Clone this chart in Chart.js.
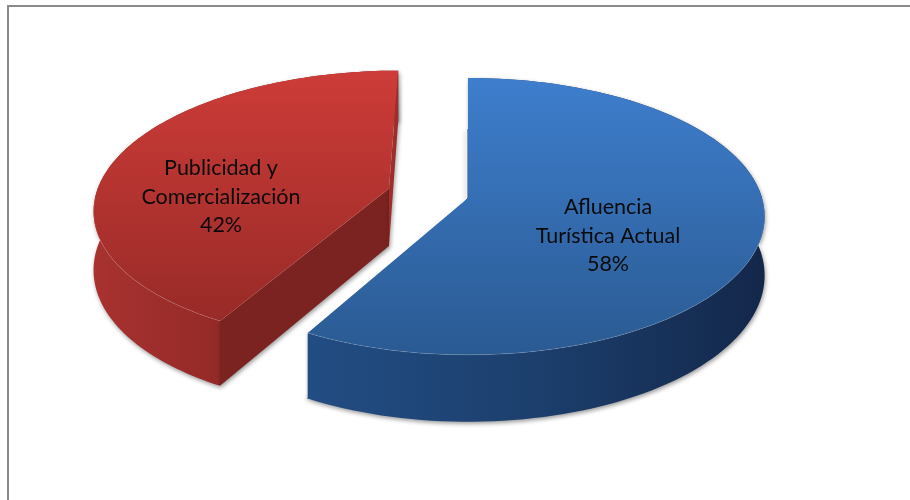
<!DOCTYPE html>
<html>
<head>
<meta charset="utf-8">
<style>
  html, body { margin: 0; background: #fff; }
  #wrap { position: relative; width: 910px; height: 500px; overflow: hidden; }
  #frame { position: absolute; left: 7px; top: 5px; width: 920px; height: 520px; border: 2px solid #8a8a8a; }
  #myChart { position: absolute; left: 0; top: 0; }
</style>
</head>
<body>
<div id="wrap">
  <div id="frame"></div>
  <canvas id="myChart" width="910" height="500"></canvas>
</div>
<script src="https://cdn.jsdelivr.net/npm/chart.js@4/dist/chart.umd.min.js"></script>
<script>
const categories = [['Afluencia', 'Turística Actual'], ['Publicidad y', 'Comercialización']];
const values = [58, 42];

// look of each slice, same order as the categories
const explode = [0, 0.28];
const topColors = [['#3e7ecd', '#2a5a92'], ['#cd3c38', '#982a27']];
const rimColors = [['#224d83', '#1c3f6d', '#13274a'], ['#a83230', '#8f2825', '#7a2320']];
const startWallColors = ['#1c3f6d', '#7a2320'];
const endWallColors = ['#1c3f6d', '#9c2e2b'];
const labelAnchors = [[608, 236], [221, 197]];

// tilted disc seen from above
const tilt = 0.133;
const stretchX = 294 / 198;
const stretchY = 136 / 198;
const depth = 58;

function project(arc, u, v, z) {
  const w = 1 / (1 - tilt * v);
  return {
    x: arc.x + arc.outerRadius * stretchX * u * w,
    y: arc.y + (arc.outerRadius * stretchY * v + z * depth) * w,
  };
}

function tracePoints(ctx, pts) {
  pts.forEach(function (p, i) {
    if (i === 0) ctx.moveTo(p.x, p.y); else ctx.lineTo(p.x, p.y);
  });
}

function signedArea(pts) {
  let sum = 0;
  pts.forEach(function (p, i) {
    const q = pts[(i + 1) % pts.length];
    sum += p.x * q.y - q.x * p.y;
  });
  return sum / 2;
}

function fillPoly(ctx, pts, color) {
  ctx.fillStyle = color;
  ctx.beginPath();
  tracePoints(ctx, pts);
  ctx.closePath();
  ctx.fill();
}

function setShadow(ctx, offsetX) {
  ctx.shadowColor = 'rgba(0,0,0,0.4)';
  ctx.shadowBlur = 4;
  ctx.shadowOffsetX = offsetX;
  ctx.shadowOffsetY = 2;
}

function drawSlice(ctx, arc, index) {
  const mid = (arc.startAngle + arc.endAngle) / 2;
  const shift = [Math.cos(mid) * explode[index], Math.sin(mid) * explode[index]];
  const rim = [];
  for (let i = 0; i <= 120; i++) {
    const a = arc.startAngle + (arc.endAngle - arc.startAngle) * i / 120;
    rim.push([Math.cos(a) + shift[0], Math.sin(a) + shift[1]]);
  }
  const top = rim.map(function (p) { return project(arc, p[0], p[1], 0); });
  const bottom = rim.map(function (p) { return project(arc, p[0], p[1], 1); });
  const apexTop = project(arc, shift[0], shift[1], 0);
  const apexBottom = project(arc, shift[0], shift[1], 1);

  const startWall = [apexTop, top[0], bottom[0], apexBottom];
  const endWall = [apexTop, top[120], bottom[120], apexBottom];
  const startVisible = signedArea(startWall) < -1;
  const endVisible = signedArea(endWall) > 1;

  ctx.save();
  // hidden walls only cast their shadow into the gap
  setShadow(ctx, -2);
  ctx.lineWidth = 1;
  ctx.strokeStyle = startWallColors[index];
  if (!startVisible) {
    ctx.beginPath();
    tracePoints(ctx, [bottom[0], apexTop]);
    ctx.stroke();
  }
  if (!endVisible) {
    ctx.beginPath();
    tracePoints(ctx, [bottom[120], apexTop]);
    ctx.stroke();
  }

  setShadow(ctx, 1);
  const xs = bottom.map(function (p) { return p.x; });
  const grad = ctx.createLinearGradient(Math.min.apply(null, xs), 0, Math.max.apply(null, xs), 0);
  rimColors[index].forEach(function (c, i) { grad.addColorStop(i / 2, c); });
  fillPoly(ctx, top.concat(bottom.slice().reverse()), grad);

  if (startVisible) fillPoly(ctx, startWall, startWallColors[index]);
  if (endVisible) fillPoly(ctx, endWall, endWallColors[index]);
  ctx.restore();

  // top face
  const ys = top.map(function (p) { return p.y; });
  const face = ctx.createLinearGradient(0, Math.min.apply(null, ys), 0, Math.max.apply(null, ys));
  face.addColorStop(0, topColors[index][0]);
  face.addColorStop(1, topColors[index][1]);
  fillPoly(ctx, [apexTop].concat(top), face);

  // thin light bevel on the front edge
  ctx.strokeStyle = 'rgba(255,255,255,0.12)';
  ctx.lineWidth = 1;
  ctx.beginPath();
  tracePoints(ctx, top.filter(function (p, i) { return rim[i][1] > 0; }));
  ctx.stroke();
}

const pie3d = {
  id: 'pie3d',
  beforeDatasetsDraw(chart) {
    const ctx = chart.ctx;
    const arcs = chart.getDatasetMeta(0).data;
    for (let i = arcs.length - 1; i >= 0; i--) {
      drawSlice(ctx, arcs[i], i);
    }
    ctx.save();
    ctx.fillStyle = '#0a0a0a';
    ctx.font = '21.5px Lato';
    ctx.textAlign = 'center';
    ctx.textBaseline = 'middle';
    const total = values.reduce(function (a, b) { return a + b; }, 0);
    categories.forEach(function (lines, i) {
      const texts = lines.concat(Math.round(values[i] / total * 100) + '%');
      texts.forEach(function (t, n) {
        ctx.fillText(t, labelAnchors[i][0], labelAnchors[i][1] + (n - 1) * 28.5);
      });
    });
    ctx.restore();
    return false;
  },
};

const ctx = document.getElementById('myChart').getContext('2d');
const myChart = new Chart(ctx, {
  type: 'pie',
  data: {
    labels: categories,
    datasets: [
      {
        data: values,
        backgroundColor: ['#3e7ecd', '#cd3c38'],
        borderWidth: 0,
      },
    ],
  },
  options: {
    responsive: false,
    animation: false,
    layout: {
      padding: { left: 270, right: 244, top: 0, bottom: 104 },
    },
    plugins: {
      legend: { display: false },
      tooltip: { enabled: false },
    },
  },
  plugins: [pie3d],
});
</script>
</body>
</html>
